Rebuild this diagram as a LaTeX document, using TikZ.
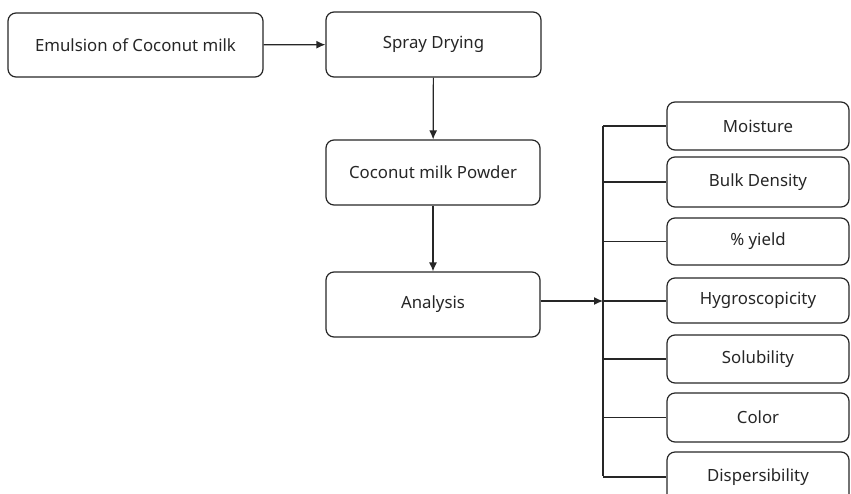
\documentclass[tikz,border=0pt]{standalone}
\usepackage{fontspec}
\setmainfont{Noto Sans}
\usetikzlibrary{arrows.meta}
\begin{document}
\begin{tikzpicture}[x=1pt,y=-1pt,
  box/.style={draw=black!85,line width=1.2pt,rounded corners=8pt,inner sep=0pt,font=\fontsize{16.8}{19}\selectfont,text=black!85},
  conn/.style={draw=black!85,line width=1.2pt},
  arr/.style={conn,-{Latex[length=9pt,width=8pt]}}]
\useasboundingbox (0,0) rectangle (851,493);
\node[box,minimum width=255pt,minimum height=64pt] (emul) at (135.5,45) {Emulsion of Coconut milk};
\node[box,minimum width=215pt,minimum height=65pt] (spray) at (433.5,44.5) {Spray Drying};
\node[box,minimum width=214pt,minimum height=65pt] (powder) at (433,172.5) {Coconut milk Powder};
\node[box,minimum width=214pt,minimum height=65pt] (anal) at (433,304.5) {Analysis};
\foreach \n/\t/\yc/\h in {moist/Moisture/126/48, bulk/Bulk Density/182/50, yield/\% yield/241.5/47, hygro/Hygroscopicity/300.5/45, solub/Solubility/359/48, color/Color/417.5/49, disp/Dispersibility/477/50}{
  \node[box,minimum width=182pt,minimum height=\h pt] (\n) at (758,\yc) {\t};
}
\coordinate (bustop) at (603,126);
\coordinate (busbot) at (603,476);
\coordinate (busin) at (603,301);
\draw[arr] (emul) -- (spray);
\draw[arr] (spray) -- (powder);
\draw[arr] (powder) -- (anal);
\draw[arr] (anal.east |- busin) -- (busin);
\draw[conn] (bustop) -- (busbot);
\foreach \n in {moist,bulk,yield,solub,color,disp}{
  \draw[conn] (bustop |- \n.west) -- (\n.west);
}
\draw[conn] (busin) -- (hygro.west |- busin);
\end{tikzpicture}
\end{document}
